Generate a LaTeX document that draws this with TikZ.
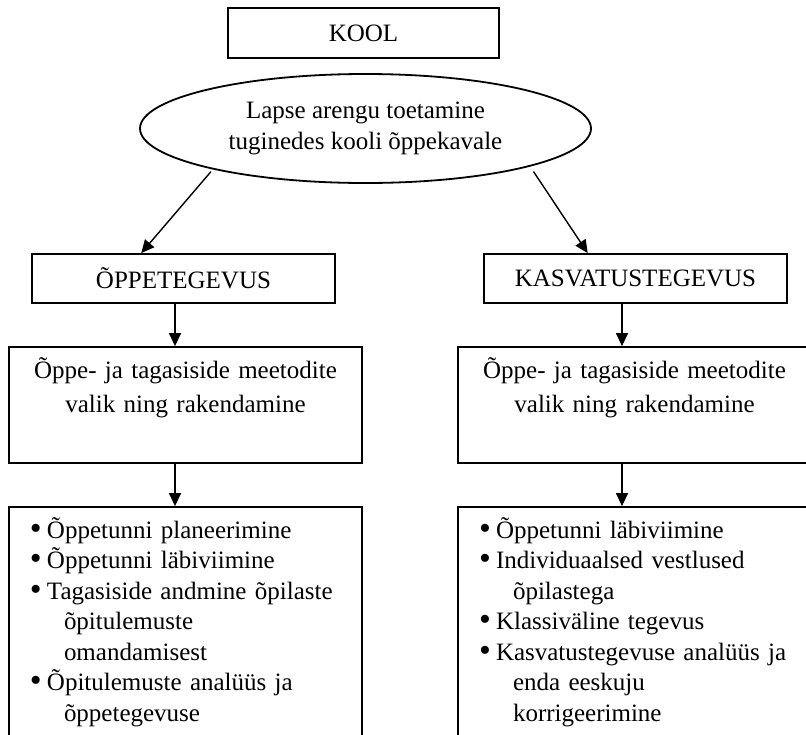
\documentclass[tikz,border=0pt]{standalone}
\usepackage{fontspec}
\setmainfont{Liberation Serif}
\usetikzlibrary{shapes.geometric,arrows.meta}
\tikzset{
  plainbox/.style={draw,line width=1.8pt,rectangle,inner sep=0pt,align=center},
  arr/.style={line width=1.4pt,-{Triangle[length=13pt,width=12pt]}},
}
\newcommand{\itm}[1]{\hspace*{21pt}\makebox[17pt][l]{\raisebox{-1pt}{\scalebox{1.35}{\textbullet}}}#1}
\newcommand{\cnt}[1]{\hspace*{55pt}#1}
\begin{document}
\begin{tikzpicture}[x=1pt,y=1pt]
\useasboundingbox (0,0) rectangle (806,-734);
\clip (0,0) rectangle (806,-734);
\fontsize{25}{31}\selectfont
\node[plainbox,minimum width=271pt,minimum height=50pt] (kool) at (363.5,-33) {KOOL};
\node[draw,line width=1.8pt,ellipse,inner sep=0pt,minimum width=451pt,minimum height=109pt,align=center] (ell) at (365.5,-128.5)
  {Lapse arengu toetamine\\tuginedes kooli õppekavale};
\node[plainbox,minimum width=303pt,minimum height=49pt] (opp) at (183.5,-278.5) {ÕPPETEGEVUS};
\node[plainbox,minimum width=303pt,minimum height=49pt] (kas) at (635.5,-278.5) {KASVATUSTEGEVUS};
% meetodid
\node[plainbox,text width=353pt,text height=31pt,text depth=85pt,font=\fontsize{25}{34}\selectfont] (midL) at (185.5,-405)
  {Õppe- ja tagasiside meetodite\\valik ning rakendamine};
\node[plainbox,text width=353pt,text height=31pt,text depth=85pt,font=\fontsize{25}{34}\selectfont] (midR) at (634.5,-405)
  {Õppe- ja tagasiside meetodite\\valik ning rakendamine};
% tegevused
\node[plainbox,align=left,text width=353pt,text height=31pt,text depth=212pt,font=\fontsize{25}{30.5}\selectfont] (botL) at (185.5,-628.5)
  {\itm{Õppetunni planeerimine}\\
   \itm{Õppetunni läbiviimine}\\
   \itm{Tagasiside andmine õpilaste}\\
   \cnt{õpitulemuste}\\
   \cnt{omandamisest}\\
   \itm{Õpitulemuste analüüs ja}\\
   \cnt{õppetegevuse}};
\node[plainbox,align=left,text width=353pt,text height=31pt,text depth=212pt,font=\fontsize{25}{30.5}\selectfont] (botR) at (634.5,-628.5)
  {\itm{Õppetunni läbiviimine}\\
   \itm{Individuaalsed vestlused}\\
   \cnt{õpilastega}\\
   \itm{Klassiväline tegevus}\\
   \itm{Kasvatustegevuse analüüs ja}\\
   \cnt{enda eeskuju}\\
   \cnt{korrigeerimine}};
\draw[arr,shorten <=3pt] (ell.195) -- (opp.149);
\draw[arr,shorten <=6pt] (ell.347) -- (kas.152);
\draw[arr] ([xshift=-8.5pt]opp.south) -- ([xshift=-8.5pt]opp.south |- midL.north);
\draw[arr] ([xshift=-13.5pt]kas.south) -- ([xshift=-13.5pt]kas.south |- midR.north);
\draw[arr] ([xshift=-10.5pt]midL.south) -- ([xshift=-10.5pt]midL.south |- botL.north);
\draw[arr] ([xshift=-12.5pt]midR.south) -- ([xshift=-12.5pt]midR.south |- botR.north);
\end{tikzpicture}
\end{document}
